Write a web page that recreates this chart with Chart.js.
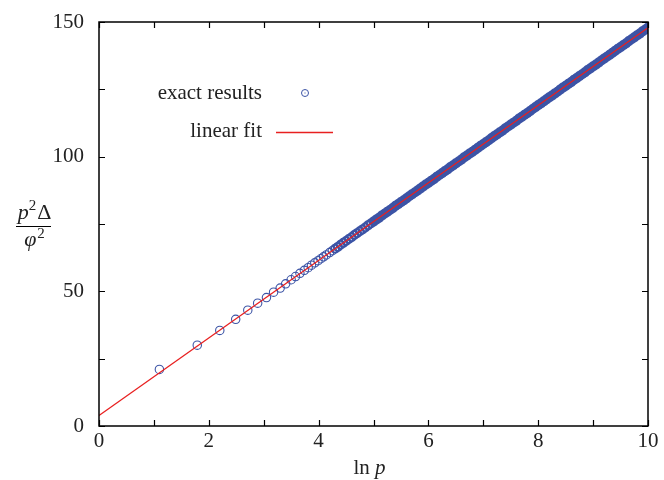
<!DOCTYPE html>
<html><head><meta charset="utf-8">
<script src="https://cdn.jsdelivr.net/npm/chart.js@4"></script>
<style>html,body{margin:0;padding:0;background:#fff}#wrap{width:664px;height:480px}</style>
</head><body><div id="wrap"><canvas id="c" width="664" height="480"></canvas></div>
<script>
const exactX = [1.10,1.79,2.20,2.49,2.71,2.89,3.05,3.18,3.30,3.40,3.50,3.58,3.66,3.74,3.81,3.87,3.93,3.99,4.04,4.09,4.14,
4.20,4.25,4.30,4.35,4.40,4.45,4.50,4.55,4.60,4.65,4.70,4.75,4.80,4.85,4.90,4.95,5.00,5.05,5.10,5.15,5.20,5.25,5.30,5.35,5.40,5.45,5.50,5.55,5.60,5.65,5.70,5.75,5.80,5.85,5.90,5.95,
6.00,6.05,6.10,6.15,6.20,6.25,6.30,6.35,6.40,6.45,6.50,6.55,6.60,6.65,6.70,6.75,6.80,6.85,6.90,6.95,7.00,7.05,7.10,7.15,7.20,7.25,7.30,7.35,7.40,7.45,7.50,7.55,7.60,7.65,7.70,7.75,7.80,7.85,7.90,7.95,
8.00,8.05,8.10,8.15,8.20,8.25,8.30,8.35,8.40,8.45,8.50,8.55,8.60,8.65,8.70,8.75,8.80,8.85,8.90,8.95,9.00,9.05,9.10,9.15,9.20,9.25,9.30,9.35,9.40,9.45,9.50,9.55,9.60,9.65,9.70,9.75,9.80,9.85,9.90,9.95,10.0];
const exactY = [21.0,30.0,35.5,39.6,43.0,45.6,47.7,49.7,51.2,52.8,54.3,55.5,56.7,57.8,58.8,59.7,60.6,61.4,62.1,62.8,63.5,
64.4,65.1,65.8,66.5,67.3,68.0,68.7,69.4,70.1,70.9,71.6,72.3,73.0,73.7,74.5,75.2,75.9,76.6,77.3,78.1,78.8,79.5,80.2,80.9,81.7,82.4,83.1,83.8,84.5,85.3,86.0,86.7,87.4,88.1,88.9,89.6,
90.3,91.0,91.7,92.5,93.2,93.9,94.6,95.3,96.1,96.8,97.5,98.2,98.9,99.7,100.4,101.1,101.8,102.5,103.3,104.0,104.7,105.4,106.1,106.9,107.6,108.3,109.0,109.7,110.5,111.2,111.9,112.6,113.3,114.1,114.8,115.5,116.2,116.9,117.7,118.4,
119.1,119.8,120.5,121.3,122.0,122.7,123.4,124.1,124.9,125.6,126.3,127.0,127.7,128.5,129.2,129.9,130.6,131.3,132.1,132.8,133.5,134.2,134.9,135.7,136.4,137.1,137.8,138.5,139.3,140.0,140.7,141.4,142.1,142.9,143.6,144.3,145.0,145.7,146.5,147.2,147.9];
const fitX = [0, 10];
const fitY = [3.9, 147.9];
const xTicks = [0,1,2,3,4,5,6,7,8,9,10];
const xLabels = ["0","","2","","4","","6","","8","","10"];
const yTicks = [0,25,50,75,100,125,150];
const yLabels = ["0","","50","","100","","150"];
const legendNames = ["exact results","linear fit"];

const SERIF = '"Liberation Serif", "DejaVu Serif", serif';
const BLUE = 'rgb(60,84,166)';
const RED = 'rgb(232,32,32)';

const deco = {
  id:'deco',
  afterDatasetsDraw(chart){
    const ctx = chart.ctx, a = chart.chartArea, xs = chart.scales.x, ys = chart.scales.y;
    ctx.save();
    ctx.strokeStyle='#000'; ctx.lineWidth=1.5;
    ctx.strokeRect(a.left, a.top, a.right-a.left, a.bottom-a.top);
    ctx.lineWidth=1.2;
    const tl=6;
    ctx.beginPath();
    xTicks.forEach(v=>{const px=Math.round(xs.getPixelForValue(v))+0.5;
      ctx.moveTo(px,a.bottom); ctx.lineTo(px,a.bottom-tl);
      ctx.moveTo(px,a.top); ctx.lineTo(px,a.top+tl);});
    yTicks.forEach(v=>{const py=Math.round(ys.getPixelForValue(v))+0.5;
      ctx.moveTo(a.left,py); ctx.lineTo(a.left+tl,py);
      ctx.moveTo(a.right,py); ctx.lineTo(a.right-tl,py);});
    ctx.stroke();
    ctx.fillStyle='#222'; ctx.font='21px '+SERIF;
    ctx.textAlign='center'; ctx.textBaseline='middle';
    xTicks.forEach((v,i)=>{ if(xLabels[i]) ctx.fillText(xLabels[i], xs.getPixelForValue(v), a.bottom+15); });
    ctx.textAlign='right';
    yTicks.forEach((v,i)=>{ if(yLabels[i]) ctx.fillText(yLabels[i], a.left-15, ys.getPixelForValue(v)); });
    const cx=(a.left+a.right)/2 - 4;
    ctx.textAlign='left'; ctx.textBaseline='alphabetic';
    ctx.font='21px '+SERIF; const w1=ctx.measureText('ln ').width;
    ctx.font='italic 21px '+SERIF; const w2=ctx.measureText('p').width;
    let sx=cx-(w1+w2)/2;
    ctx.font='21px '+SERIF; ctx.fillText('ln ', sx, 474);
    ctx.font='italic 21px '+SERIF; ctx.fillText('p', sx+w1, 474);
    const fx=34;
    ctx.font='italic 22px '+SERIF; const pw=ctx.measureText('p').width;
    ctx.font='15px '+SERIF; const sw=ctx.measureText('2').width;
    ctx.font='22px '+SERIF; const dw=ctx.measureText('Δ').width;
    let tx=fx-(pw+sw+dw)/2;
    ctx.font='italic 22px '+SERIF; ctx.fillText('p', tx, 219);
    ctx.font='15px '+SERIF; ctx.fillText('2', tx+pw, 210);
    ctx.font='22px '+SERIF; ctx.fillText('Δ', tx+pw+sw+1, 219);
    ctx.lineWidth=1.2; ctx.beginPath(); ctx.moveTo(16,226.5); ctx.lineTo(51,226.5); ctx.stroke();
    ctx.font='italic 22px '+SERIF; const phw=ctx.measureText('φ').width;
    tx=fx-(phw+sw)/2;
    ctx.fillText('φ', tx, 246);
    ctx.font='15px '+SERIF; ctx.fillText('2', tx+phw+1, 238);
    ctx.font='21px '+SERIF; ctx.textAlign='right'; ctx.textBaseline='middle'; ctx.fillStyle='#222';
    ctx.fillText(legendNames[0], 262, 93);
    ctx.fillText(legendNames[1], 262, 131);
    ctx.strokeStyle=BLUE; ctx.lineWidth=1;
    ctx.beginPath(); ctx.arc(305,93,3.5,0,Math.PI*2); ctx.stroke();
    ctx.fillStyle=BLUE; ctx.fillRect(304.5,92.5,1,1);
    ctx.strokeStyle=RED; ctx.lineWidth=1.3;
    ctx.beginPath(); ctx.moveTo(276,132.5); ctx.lineTo(333,132.5); ctx.stroke();
    ctx.restore();
  }
};

function ptX(c){ const r=c.raw; return r ? r.x : 0; }

new Chart(document.getElementById('c'), {
  type:'scatter',
  data:{ datasets:[
    { label:legendNames[1], data: fitX.map((x,i)=>({x, y:fitY[i]})), showLine:true, borderColor:RED, borderWidth:1.3, pointRadius:0, order:0 },
    { label:legendNames[0], data: exactX.map((x,i)=>({x, y:exactY[i]})), showLine:false,
      pointRadius: c => { const x=ptX(c); return x<4.3 ? 4.2 : x<5 ? 4.0 : 3.4; },
      pointBorderWidth: c => { const x=ptX(c); return x<4.3 ? 1.1 : x<5 ? 2.0 : 3.4; },
      pointBorderColor:BLUE, pointBackgroundColor:'rgba(0,0,0,0)', order:1 }
  ]},
  options:{
    responsive:false, animation:false, devicePixelRatio:1,
    layout:{padding:{left:0,top:22,right:16,bottom:0}},
    plugins:{legend:{display:false}, tooltip:{enabled:false}},
    scales:{
      x:{type:'linear', min:0, max:10, border:{display:false}, grid:{display:false, drawTicks:false}, ticks:{display:false},
         afterFit(s){ s.height=54; }},
      y:{type:'linear', min:0, max:150, border:{display:false}, grid:{display:false, drawTicks:false}, ticks:{display:false},
         afterFit(s){ s.width=99; }}
    }
  },
  plugins:[deco]
});
</script></body></html>
